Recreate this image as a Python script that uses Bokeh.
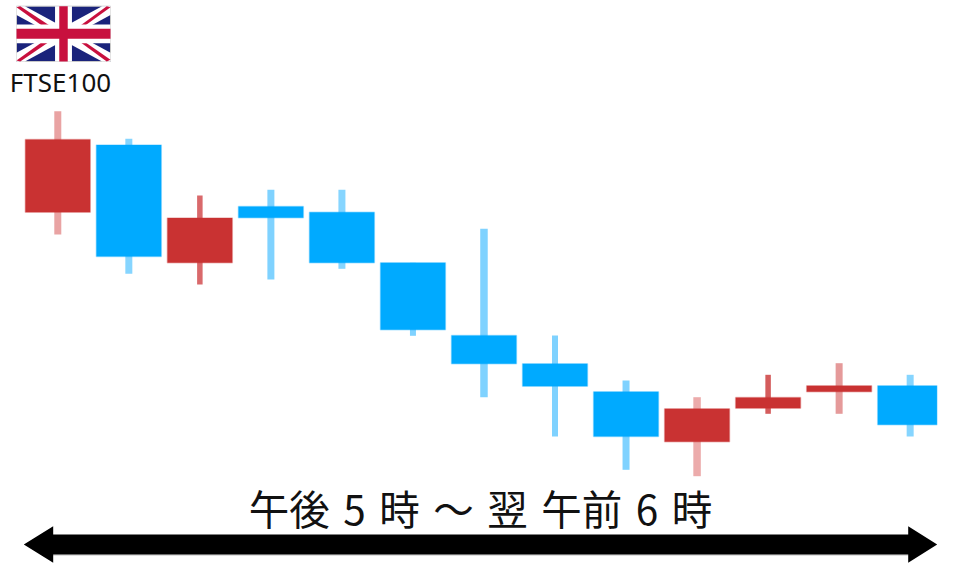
import numpy as np
from bokeh.plotting import figure
from bokeh.models import Range1d
from bokeh.core.properties import value
from bokeh.embed import file_html
from bokeh.resources import INLINE

# candles: index along the session, y (downward scale)
session = list(range(13))
body_top = [139, 144.5, 217.5, 206, 211.7, 262.3, 335, 363.3, 391.3, 408.3, 397, 385.3, 385.3]
body_bottom = [211.7, 256, 262.3, 217.3, 262.3, 329.3, 363.3, 385.7, 436, 441.3, 407.7, 391.3, 424.3]
wick_top = [110.7, 138.3, 195, 189.3, 189.3, 262.3, 228.3, 335, 380, 396.7, 374.3, 362.7, 374.3]
wick_bottom = [234, 273.3, 284, 279, 268.3, 335.3, 396.7, 436, 469.3, 475.7, 413.3, 413.3, 436]
direction = ["up", "down", "up", "down", "down", "down", "down", "down", "down", "up", "up", "up", "down"]
wick_colors = ["#e9a3a3", "#86d5ff", "#d9696b", "#7fd2ff", "#86d5ff", "#7fd2ff", "#7fd2ff",
               "#7fd2ff", "#7fd2ff", "#ecabab", "#d45c5c", "#e59a9a", "#86d5ff"]
wick_widths = [7, 7, 5.5, 7, 7, 6, 7.5, 6, 7, 7.5, 5.5, 7, 7]
body_colors = {"up": "#c93232", "down": "#00aaff"}

label_title = "FTSE100"
label_span = "午後\u20045\u2004時\u2004〜\u2004翌\u2004午前\u20046\u2004時"

# page layout in reference pixels
PX_LEFT, PX_RIGHT, PX_TOP, PX_BOTTOM = 0, 944, 0, 563
CANDLE_X0, CANDLE_STEP = 57.3, 71.03

p = figure(width=944, height=563, output_backend="svg", toolbar_location=None,
           x_range=Range1d((PX_LEFT - CANDLE_X0) / CANDLE_STEP, (PX_RIGHT - CANDLE_X0) / CANDLE_STEP),
           y_range=Range1d(PX_BOTTOM, PX_TOP), min_border=0)
p.extra_x_ranges["px"] = Range1d(PX_LEFT, PX_RIGHT)
p.xaxis.visible = False
p.yaxis.visible = False
p.grid.visible = False
p.outline_line_color = None
p.background_fill_color = "white"

xs = np.array(session, dtype=float)
p.segment(xs, wick_top, xs, wick_bottom, line_color=wick_colors,
          line_width=wick_widths, line_cap="butt")

# body, the last one is cut at the right edge of the original crop
left = xs - 0.457
right = np.minimum(xs + 0.457, 12.377)
fills = [body_colors[d] for d in direction]
p.quad(left=left, right=right, top=body_top, bottom=body_bottom,
       fill_color=fills, line_color=fills, line_alpha=0.3, line_width=1.5)

# flag
fx0, fx1, fy0, fy1 = 16, 110, 5.7, 61
fw, fh = fx1 - fx0, fy1 - fy0
def fx(v): return [fx0 + a * fw for a in v]
def fy(v): return [fy0 + a * fh for a in v]
p.quad(left=[fx0], right=[fx1], top=[fy0], bottom=[fy1], fill_color="#1a237b",
       line_color="#c8c8c8", line_width=1, x_range_name="px")
# white diagonals
for a, b in [(([0, .09, 1, 1, .91, 0]), ([0, 0, .84, 1, 1, .16])),
             (([1, .91, 0, 0, .09, 1]), ([0, 0, .84, 1, 1, .16]))]:
    p.patch(fx(a), fy(b), fill_color="white", line_color=None, x_range_name="px")
# red diagonals
for a, b in [([0, .04, .36, .31], [.02, 0, .36, .40]),
             ([.64, .69, 1, .96], [.60, .60, .97, 1]),
             ([.96, 1, .69, .64], [0, .02, .40, .40]),
             ([.31, .36, .04, 0], [.60, .63, 1, .98])]:
    p.patch(fx(a), fy(b), fill_color="#c8103e", line_color=None, x_range_name="px")
# cross
p.quad(left=fx([.41]), right=fx([.59]), top=[fy0], bottom=[fy1], fill_color="white", line_color=None, x_range_name="px")
p.quad(left=[fx0], right=[fx1], top=fy([.33]), bottom=fy([.67]), fill_color="white", line_color=None, x_range_name="px")
p.quad(left=fx([.455]), right=fx([.545]), top=[fy0], bottom=[fy1], fill_color="#c8103e", line_color=None, x_range_name="px")
p.quad(left=[fx0], right=[fx1], top=fy([.41]), bottom=fy([.59]), fill_color="#c8103e", line_color=None, x_range_name="px")

# arrow
p.segment([52], [554.5], [908], [554.5], line_color="#bdbdbd", line_width=1, x_range_name="px")
p.patch([23.3, 52.7, 52.7, 907.7, 907.7, 936.7, 907.7, 907.7, 52.7, 52.7],
        [544, 525.7, 534, 534, 525.7, 544, 562.3, 554, 554, 562.3],
        fill_color="black", line_color=None, x_range_name="px")

# texts
p.text([60], [81], text=[label_title], text_font=value("Noto Sans"), text_font_size="26px",
       text_color="#111111", text_align="center", text_baseline="alphabetic", x_range_name="px")
p.text([480], [507], text=[label_span], text_font=value("Noto Sans CJK JP"), text_font_size="40.5px",
       text_color="#111111", text_align="center", text_baseline="alphabetic", x_range_name="px")

open("out.html", "w").write(file_html(p, INLINE))
